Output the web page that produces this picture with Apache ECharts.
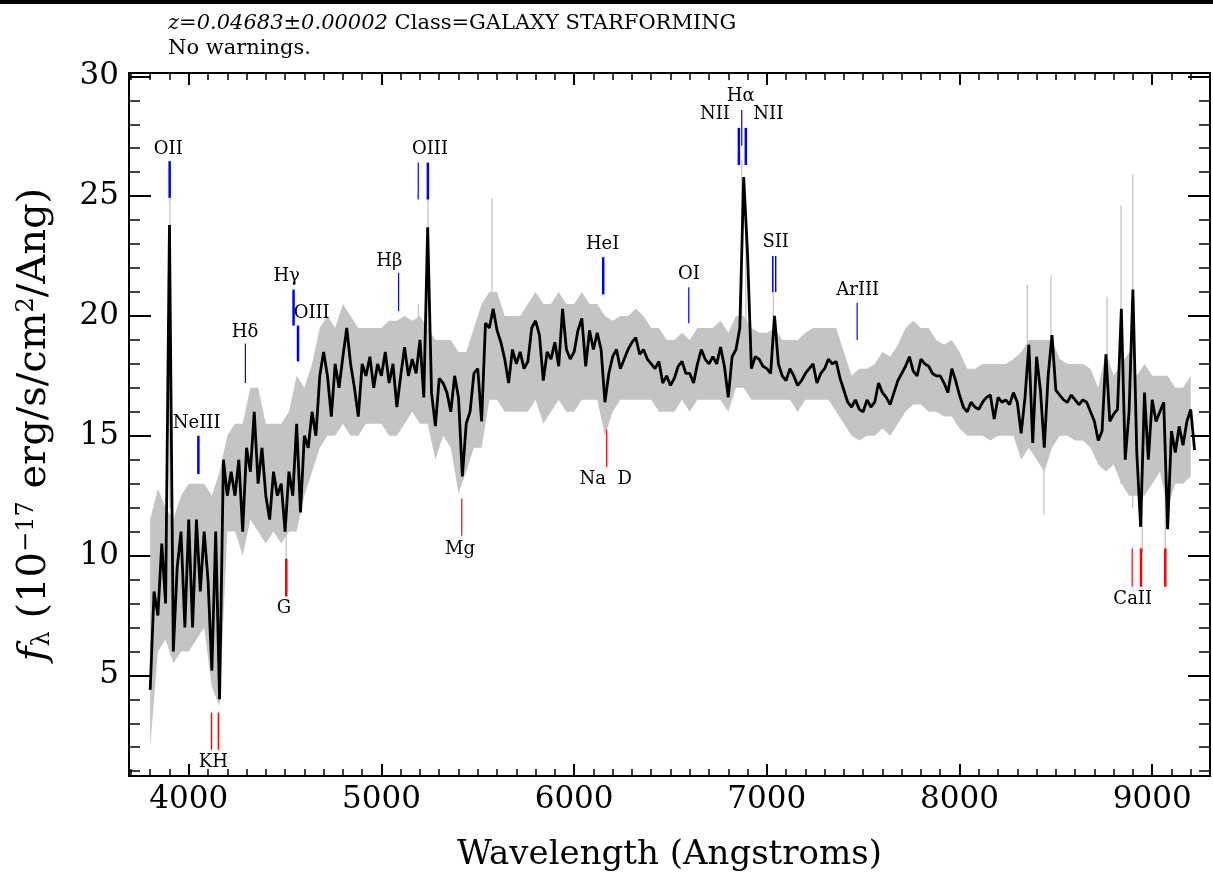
<!DOCTYPE html>
<html>
<head>
<meta charset="utf-8">
<title>SDSS spectrum</title>
<script src="https://cdn.jsdelivr.net/npm/echarts@6/dist/echarts.min.js"></script>
<style>
html,body{margin:0;padding:0;background:#fff;}
#main{width:1213px;height:876px;}
</style>
</head>
<body>
<div id="main"></div>
<script>
// smoothed flux (black), one value every 20 Angstrom from 3800
var START = 3800, STEP = 20;
var flux = [
	4.4, 8.5, 7.5, 10.5, 8.0, 23.8, 6.0, 9.5, 11.0, 7.0,
	11.5, 7.0, 11.5, 8.5, 11.0, 9.0, 5.2, 11.0, 4.0, 14.0,
	12.5, 13.5, 12.5, 14.0, 11.0, 14.5, 13.5, 16.0, 13.0, 14.5,
	12.5, 11.5, 13.5, 12.5, 13.0, 11.0, 13.5, 12.5, 15.5, 11.8,
	15.0, 14.5, 16.0, 15.0, 17.5, 18.5, 17.5, 15.8, 18.0, 17.0,
	18.3, 19.5, 18.0, 17.0, 15.8, 18.0, 17.5, 18.3, 17.0, 18.0,
	17.5, 18.5, 17.2, 18.0, 16.2, 17.5, 18.7, 17.5, 18.2, 17.6,
	19.0, 16.6, 23.7, 16.8, 15.4, 17.4, 17.2, 16.8, 16.0, 17.5,
	16.6, 13.3, 15.5, 16.0, 17.6, 17.8, 15.6, 19.7, 19.5, 20.3,
	19.4, 18.9, 18.2, 17.2, 18.6, 18.0, 18.5, 17.8, 18.1, 19.5,
	19.8, 19.2, 17.3, 18.5, 18.2, 18.9, 17.9, 20.3, 18.6, 18.2,
	18.5, 19.4, 19.9, 17.9, 19.4, 18.6, 19.3, 18.6, 16.4, 17.6,
	18.3, 18.6, 17.8, 18.2, 18.6, 18.9, 19.1, 18.4, 18.6, 18.2,
	18.0, 17.8, 18.1, 17.2, 17.5, 17.1, 17.4, 17.9, 18.1, 17.6,
	17.6, 17.2, 18.0, 18.6, 18.2, 18.0, 18.3, 18.0, 18.7, 17.9,
	16.6, 18.3, 18.6, 19.5, 25.8, 22.6, 17.8, 18.3, 18.2, 17.9,
	17.8, 17.6, 20.0, 18.0, 17.5, 17.3, 17.8, 17.5, 17.1, 17.3,
	17.6, 17.8, 18.0, 17.2, 17.6, 17.8, 18.2, 18.0, 18.1, 17.4,
	16.9, 16.4, 16.2, 16.5, 16.1, 16.0, 16.5, 16.2, 16.4, 17.2,
	16.8, 16.6, 16.3, 16.8, 17.3, 17.6, 17.9, 18.3, 17.7, 17.5,
	18.2, 18.0, 17.9, 17.6, 17.5, 17.5, 17.2, 16.8, 17.8, 17.3,
	16.7, 16.2, 16.0, 16.4, 16.2, 16.1, 16.4, 16.6, 16.7, 15.7,
	16.6, 16.4, 16.5, 16.3, 16.8, 16.4, 15.1, 16.6, 18.8, 14.7,
	18.3, 16.9, 14.5, 17.5, 19.2, 16.9, 16.7, 16.5, 16.4, 16.7,
	16.5, 16.3, 16.5, 16.4, 16.0, 15.6, 14.8, 15.2, 18.4, 15.6,
	15.9, 16.1, 20.3, 14.0, 16.0, 21.1, 14.3, 11.2, 16.8, 14.0,
	16.5, 15.6, 16.0, 16.4, 11.1, 15.2, 14.3, 15.4, 14.6, 15.6,
	16.1, 14.4
];

// raw flux envelope (grey), every 40 Angstrom from 3800
var GREY_START = 3800, GREY_STEP = 40;
var greyLo = [
	2.0, 6.0, 6.5, 5.5, 6.0, 6.0, 6.5, 7.0, 4.5, 3.7,
	11.0, 11.0, 10.0, 11.5, 11.0, 10.5, 11.0, 10.5, 11.0, 11.0,
	12.5, 13.5, 14.5, 15.0, 15.0, 15.5, 15.0, 15.0, 15.5, 15.5,
	15.5, 15.0, 15.0, 15.5, 16.0, 15.5, 15.5, 14.0, 15.0, 14.5,
	12.6, 13.5, 14.5, 14.5, 16.5, 16.5, 16.0, 16.0, 16.0, 16.0,
	16.5, 15.5, 16.0, 16.5, 16.0, 16.0, 16.5, 16.5, 16.5, 15.0,
	16.0, 16.5, 16.5, 16.5, 16.5, 16.5, 16.0, 16.0, 16.0, 16.5,
	16.0, 16.5, 16.5, 16.5, 16.5, 16.0, 17.0, 17.0, 16.5, 16.5,
	16.5, 16.5, 16.5, 16.5, 16.0, 16.5, 16.5, 16.5, 16.5, 16.0,
	15.5, 15.0, 14.8, 15.0, 15.0, 15.3, 15.0, 15.5, 16.0, 16.3,
	16.3, 16.0, 16.0, 15.8, 15.8, 15.3, 15.0, 15.0, 15.0, 14.8,
	15.0, 15.0, 15.0, 14.0, 14.5, 14.0, 13.5, 14.5, 15.0, 15.0,
	14.8, 14.8, 14.5, 13.8, 13.5, 13.8, 13.0, 12.5, 12.5, 12.5,
	13.0, 13.5, 12.0, 13.0, 13.0, 13.3
];
var greyHi = [
	11.5, 12.8, 12.0, 11.5, 12.5, 13.0, 13.0, 13.0, 12.5, 13.5,
	15.0, 15.5, 15.5, 17.0, 17.0, 15.5, 15.5, 15.5, 16.0, 17.5,
	17.0, 18.0, 19.5, 20.0, 19.5, 20.5, 20.0, 19.5, 19.5, 19.5,
	19.5, 19.8, 19.8, 20.0, 19.8, 20.0, 19.5, 19.0, 19.0, 19.0,
	18.5, 18.5, 19.5, 20.5, 21.0, 21.0, 20.0, 20.0, 20.0, 20.5,
	21.0, 20.5, 20.5, 21.0, 20.5, 20.5, 21.0, 20.5, 20.5, 20.0,
	19.8, 20.0, 20.0, 20.3, 20.0, 19.5, 19.5, 19.0, 19.0, 19.3,
	19.0, 19.5, 19.5, 19.5, 19.8, 19.3, 20.0, 20.0, 19.5, 19.3,
	19.3, 19.5, 19.0, 19.0, 19.0, 19.3, 19.5, 19.5, 19.5, 19.5,
	18.5, 17.5, 17.8, 17.8, 18.0, 18.5, 18.3, 18.8, 19.5, 19.8,
	19.5, 19.5, 19.0, 18.8, 19.0, 18.5, 17.8, 17.8, 18.0, 18.0,
	18.0, 18.0, 18.2, 18.5, 19.0, 19.0, 19.0, 19.0, 18.2, 18.0,
	18.0, 18.0, 17.8, 17.0, 18.5, 17.5, 18.0, 18.5, 17.5, 18.0,
	17.5, 17.5, 17.5, 17.0, 17.0, 17.5
];

// single grey pixels that stick out of the envelope
var spikeWave = [3902, 4506, 5192, 5242, 5574, 6870, 6891, 7034, 8352, 8438, 8475, 8766, 8838, 8899, 8949, 9068];
var spikeLo   = [12.0, 9.5, 16.0, 16.0, 17.0, 17.0, 17.0, 17.0, 15.0, 11.7, 15.0, 14.0, 13.0, 12.0, 10.1, 10.3];
var spikeHi   = [25.5, 13.0, 20.5, 24.9, 24.9, 26.5, 23.5, 21.0, 21.3, 17.0, 21.7, 20.8, 24.6, 25.9, 15.0, 15.0];

// emission line marks (blue)
var emWave   = [3901, 4050, 4294, 4544, 4567, 5089, 5191, 5241, 6151, 6595, 6855, 6870, 6891, 7031, 7046, 7469];
var emTop    = [26.46, 15.0, 18.85, 21.1, 19.6, 21.8, 26.4, 26.4, 22.45, 21.2, 27.85, 28.6, 27.85, 22.5, 22.5, 20.55];
var emBottom = [24.93, 13.4, 17.2, 19.6, 18.1, 20.2, 24.86, 24.86, 20.9, 19.7, 26.3, 27.1, 26.3, 21.0, 21.0, 19.0];
var emWidth  = [2.5, 2.5, 1.2, 2.5, 2.5, 1.2, 1.2, 2.5, 2.5, 1.2, 2.5, 1.2, 2.5, 1.5, 1.5, 1.2];

// absorption line marks (red)
var abWave   = [4118, 4154, 4506, 5417, 6169, 8896, 8942, 9068];
var abTop    = [3.45, 3.45, 9.87, 12.38, 15.26, 10.3, 10.3, 10.3];
var abBottom = [1.9, 1.9, 8.29, 10.83, 13.7, 8.7, 8.7, 8.7];
var abWidth  = [1.5, 1.5, 2.5, 1.2, 1.2, 1.2, 2.5, 2.5];

// line names
var labText = ['OII', 'NeIII', 'H\u03b4', 'H\u03b3', 'OIII', 'H\u03b2', 'OIII', 'HeI', 'OI', 'NII', 'H\u03b1', 'NII', 'SII', 'ArIII', 'KH', 'G', 'Mg', 'Na  D', 'CaII'];
var labWave = [3894, 4041, 4292, 4508, 4638, 5041, 5252, 6148, 6596, 6731, 6865, 7008, 7046, 7472, 4128, 4494, 5408, 6164, 8899];
var labFlux = [26.94, 15.51, 19.32, 21.66, 20.13, 22.28, 26.94, 22.98, 21.73, 28.41, 29.17, 28.41, 23.06, 21.07, 1.36, 7.78, 10.28, 13.20, 8.19];

var X_MIN = 3690, X_MAX = 9300, Y_MIN = 0.8, Y_MAX = 30.14;
var FONT = 'DejaVu Serif';

var fluxData = flux.map(function(v, i){ return [START + i * STEP, v]; });

function segData(w, lo, hi, width){
	return w.map(function(x, i){ return [x, lo[i], hi[i], width ? width[i] : 1.3]; });
}
function segRender(color){
	return function(params, api){
		var a = api.coord([api.value(0), api.value(1)]);
		var b = api.coord([api.value(0), api.value(2)]);
		return {
			type: 'line',
			shape: {x1: a[0], y1: a[1], x2: b[0], y2: b[1]},
			style: {stroke: color, lineWidth: api.value(3)}
		};
	};
}
function plain(v){ return String(v); }

var frameLine = {show: true, onZero: false, lineStyle: {color: '#000', width: 2}};

function xAxisCfg(pos, labels){
	return {
		type: 'value', position: pos, min: X_MIN, max: X_MAX, splitNumber: 5,
		axisLine: frameLine,
		axisTick: {show: true, inside: true, length: 12, lineStyle: {color: '#000', width: 2}},
		minorTick: {show: true, splitNumber: 10, length: 7, lineStyle: {color: '#000', width: 1.5}},
		axisLabel: {show: labels, margin: 8, showMinLabel: false, showMaxLabel: false, formatter: plain,
			color: '#000', fontFamily: FONT, fontSize: 31},
		splitLine: {show: false}
	};
}
function yAxisCfg(pos, labels){
	return {
		type: 'value', position: pos, min: Y_MIN, max: Y_MAX, splitNumber: 5,
		axisLine: frameLine,
		axisTick: {show: true, inside: true, length: 22, lineStyle: {color: '#000', width: 2}},
		minorTick: {show: true, splitNumber: 5, length: 11, lineStyle: {color: '#000', width: 1.5}},
		axisLabel: {show: labels, margin: 10, showMinLabel: false, showMaxLabel: false, formatter: plain,
			color: '#000', fontFamily: FONT, fontSize: 31},
		splitLine: {show: false}
	};
}

var xBottom = xAxisCfg('bottom', true);
xBottom.name = 'Wavelength (Angstroms)';
xBottom.nameLocation = 'middle';
xBottom.nameGap = 62;
xBottom.nameTextStyle = {color: '#000', fontFamily: FONT, fontSize: 34};

var yLeft = yAxisCfg('left', true);
yLeft.name = '{f|f}{sub|\u03bb} (10{sup|\u221217} erg/s/cm{sup|2}/Ang)';
yLeft.nameLocation = 'middle';
yLeft.nameRotate = 90;
yLeft.nameGap = 74;
yLeft.nameTextStyle = {
	color: '#000', fontFamily: FONT, fontSize: 40,
	rich: {
		f: {fontFamily: FONT, fontStyle: 'italic', fontSize: 40, color: '#000'},
		sub: {fontFamily: FONT, fontSize: 24, verticalAlign: 'bottom', color: '#000'},
		sup: {fontFamily: FONT, fontSize: 24, verticalAlign: 'top', color: '#000'}
	}
};

var option = {
	animation: false,
	backgroundColor: '#fff',
	grid: {left: 129, right: 3, top: 73, bottom: 100, outerBoundsMode: 'none'},
	xAxis: [xBottom, xAxisCfg('top', false)],
	yAxis: [yLeft, yAxisCfg('right', false)],
	graphic: [
		{type: 'rect', shape: {x: 0, y: 0, width: 1213, height: 4}, style: {fill: '#000'}},
		{type: 'text', left: 168, top: 13, style: {
			text: '{i|z=0.04683\u00b10.00002} Class=GALAXY STARFORMING',
			fontFamily: FONT, fontSize: 21, fill: '#000',
			rich: {i: {fontFamily: FONT, fontStyle: 'italic', fontSize: 21, fill: '#000'}}
		}},
		{type: 'text', left: 168, top: 38, style: {
			text: 'No warnings.', fontFamily: FONT, fontSize: 21, fill: '#000'
		}}
	],
	series: [
		{
			// grey envelope
			type: 'custom', z: 1, silent: true,
			data: [[GREY_START, greyLo[0]]],
			renderItem: function(params, api){
				var pts = [], i;
				for (i = 0; i < greyHi.length; i++) pts.push(api.coord([GREY_START + i * GREY_STEP, greyHi[i]]));
				for (i = greyLo.length - 1; i >= 0; i--) pts.push(api.coord([GREY_START + i * GREY_STEP, greyLo[i]]));
				return {type: 'polygon', shape: {points: pts}, style: {fill: '#c4c4c4'}};
			}
		},
		{
			type: 'custom', z: 2, silent: true,
			data: segData(spikeWave, spikeLo, spikeHi),
			encode: {x: 0, y: [1, 2]},
			renderItem: segRender('#c4c4c4')
		},
		{
			type: 'line', z: 3, silent: true,
			data: fluxData, symbol: 'none', showSymbol: false,
			lineStyle: {color: '#000', width: 2.8}
		},
		{
			type: 'custom', z: 4, silent: true,
			data: segData(emWave, emBottom, emTop, emWidth),
			encode: {x: 0, y: [1, 2]},
			renderItem: segRender('#0000ff')
		},
		{
			type: 'custom', z: 4, silent: true,
			data: segData(abWave, abBottom, abTop, abWidth),
			encode: {x: 0, y: [1, 2]},
			renderItem: segRender('#ff0000')
		},
		{
			type: 'custom', z: 5, silent: true,
			data: labWave.map(function(w, i){ return [w, labFlux[i]]; }),
			renderItem: function(params, api){
				var p = api.coord([api.value(0), api.value(1)]);
				return {
					type: 'text', x: p[0], y: p[1],
					style: {text: labText[params.dataIndex], fontFamily: FONT, fontSize: 18,
						fill: '#000', align: 'center', verticalAlign: 'middle'}
				};
			}
		}
	]
};

var myChart = echarts.init(document.getElementById('main'));
myChart.setOption(option);
</script>
</body>
</html>
